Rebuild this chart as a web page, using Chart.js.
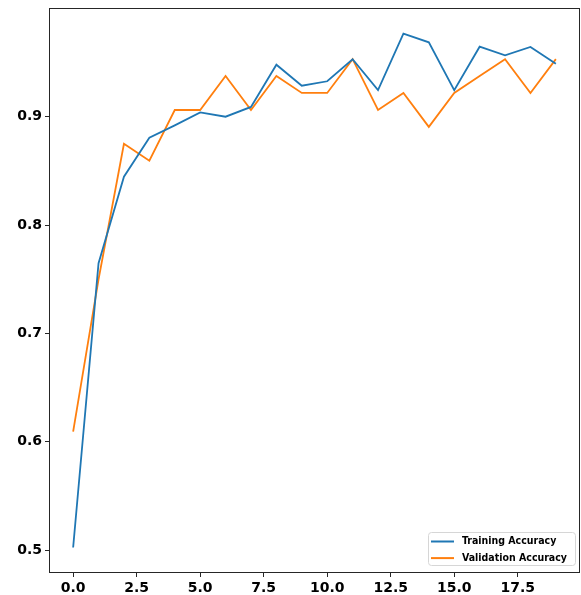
<!DOCTYPE html>
<html>
<head>
<meta charset="utf-8">
<title>Training and Validation Accuracy</title>
<script src="https://cdn.jsdelivr.net/npm/chart.js@4/dist/chart.umd.min.js"></script>
<style>
  html, body { margin: 0; padding: 0; background: #ffffff; }
  canvas { display: block; }
</style>
</head>
<body>
<canvas id="acc" width="581" height="595"></canvas>
<script>
// Epoch indices and per-epoch accuracy
const epochs = [0, 1, 2, 3, 4, 5, 6, 7, 8, 9, 10, 11, 12, 13, 14, 15, 16, 17, 18, 19];
const trainingAccuracy = [0.5025, 0.7648, 0.8447, 0.8806, 0.8920, 0.9040, 0.9000, 0.9090, 0.9480, 0.9286,
                          0.9327, 0.9530, 0.9246, 0.9766, 0.9686, 0.9244, 0.9646, 0.9566, 0.9643, 0.9489];
const validationAccuracy = [0.6094, 0.7500, 0.8750, 0.8594, 0.9062, 0.9062, 0.9375, 0.9062, 0.9375, 0.9219,
                            0.9219, 0.9531, 0.9062, 0.9219, 0.8906, 0.9219, 0.9375, 0.9531, 0.9219, 0.9531];
const xTickValues = [0, 2.5, 5, 7.5, 10, 12.5, 15, 17.5];
const yTickValues = [0.5, 0.6, 0.7, 0.8, 0.9];
const seriesLabels = ['Training Accuracy', 'Validation Accuracy'];
const seriesColors = ['#1f77b4', '#ff7f0e'];

const tickFont = { family: '"DejaVu Sans", sans-serif', size: 14, weight: 'bold' };

// Full frame around the plotting area
const frame = {
  id: 'frame',
  afterDatasetsDraw(chart) {
    const { ctx, chartArea: a } = chart;
    ctx.save();
    ctx.strokeStyle = '#262626';
    ctx.lineWidth = 1;
    ctx.strokeRect(Math.round(a.left) + 0.5, Math.round(a.top) + 0.5,
                   Math.round(a.right - a.left) - 1, Math.round(a.bottom - a.top) - 1);
    ctx.restore();
  }
};

// Legend box placed in the lower-right corner of the plot
const cornerLegend = {
  id: 'cornerLegend',
  afterDraw(chart) {
    const { ctx, chartArea: a } = chart;
    const font = 'bold 10.5px "Liberation Sans Narrow", "DejaVu Sans Condensed", "Roboto Condensed", sans-serif';
    ctx.save();
    ctx.font = font;
    const textW = Math.max(...chart.data.datasets.map(d => ctx.measureText(d.label).width));
    const lineLen = 23, gap = 8, padX = 3, rowH = 16.6;
    const boxW = padX + lineLen + gap + textW + 8;
    const boxH = 33;
    const x = Math.round(a.right - 5 - boxW);
    const y = Math.round(a.bottom - 8 - boxH);
    ctx.fillStyle = 'rgba(255,255,255,0.85)';
    ctx.strokeStyle = '#d6d6d6';
    ctx.lineWidth = 1;
    ctx.beginPath();
    ctx.roundRect(x + 0.5, y + 0.5, boxW, boxH, 3);
    ctx.fill();
    ctx.stroke();
    chart.data.datasets.forEach((d, i) => {
      const cy = y + 9.5 + rowH * i;
      ctx.strokeStyle = d.borderColor;
      ctx.lineWidth = 2;
      ctx.beginPath();
      ctx.moveTo(x + padX, cy);
      ctx.lineTo(x + padX + lineLen, cy);
      ctx.stroke();
      ctx.fillStyle = '#000000';
      ctx.textBaseline = 'middle';
      ctx.textAlign = 'left';
      ctx.fillText(d.label, x + padX + lineLen + gap, cy);
    });
    ctx.restore();
  }
};

new Chart(document.getElementById('acc'), {
  type: 'line',
  data: {
    datasets: [
      {
        label: seriesLabels[0],
        data: epochs.map((e, i) => ({ x: e, y: trainingAccuracy[i] })),
        borderColor: seriesColors[0],
        backgroundColor: seriesColors[0],
        borderWidth: 1.8,
        pointRadius: 0,
        tension: 0,
        fill: false
      },
      {
        label: seriesLabels[1],
        data: epochs.map((e, i) => ({ x: e, y: validationAccuracy[i] })),
        borderColor: seriesColors[1],
        backgroundColor: seriesColors[1],
        borderWidth: 1.8,
        pointRadius: 0,
        tension: 0,
        fill: false
      }
    ]
  },
  options: {
    responsive: false,
    animation: false,
    devicePixelRatio: 1,
    layout: { padding: { top: 8, right: 1, left: 0, bottom: 0 } },
    plugins: {
      legend: { display: false },
      tooltip: { enabled: false }
    },
    scales: {
      x: {
        type: 'linear',
        min: -0.95,
        max: 19.95,
        afterBuildTicks(scale) { scale.ticks = xTickValues.map(v => ({ value: v })); },
        afterFit(scale) {
          scale.height = 22;
          scale.paddingLeft = 0;
          scale.paddingRight = 0;
        },
        grid: { display: true, drawOnChartArea: false, drawTicks: true, tickLength: 4, color: '#262626' },
        border: { display: false },
        ticks: {
          font: tickFont,
          color: '#000000',
          padding: 3,
          maxRotation: 0,
          autoSkip: false,
          callback: v => Number(v).toFixed(1)
        }
      },
      y: {
        type: 'linear',
        min: 0.4790,
        max: 1.0003,
        afterBuildTicks(scale) { scale.ticks = yTickValues.map(v => ({ value: v })); },
        afterFit(scale) {
          scale.width = 49;
          scale.paddingTop = 0;
          scale.paddingBottom = 0;
        },
        grid: { display: true, drawOnChartArea: false, drawTicks: true, tickLength: 4, color: '#262626' },
        border: { display: false },
        ticks: {
          font: tickFont,
          color: '#000000',
          padding: 3,
          autoSkip: false,
          callback: v => Number(v).toFixed(1)
        }
      }
    }
  },
  plugins: [frame, cornerLegend]
});
</script>
</body>
</html>
